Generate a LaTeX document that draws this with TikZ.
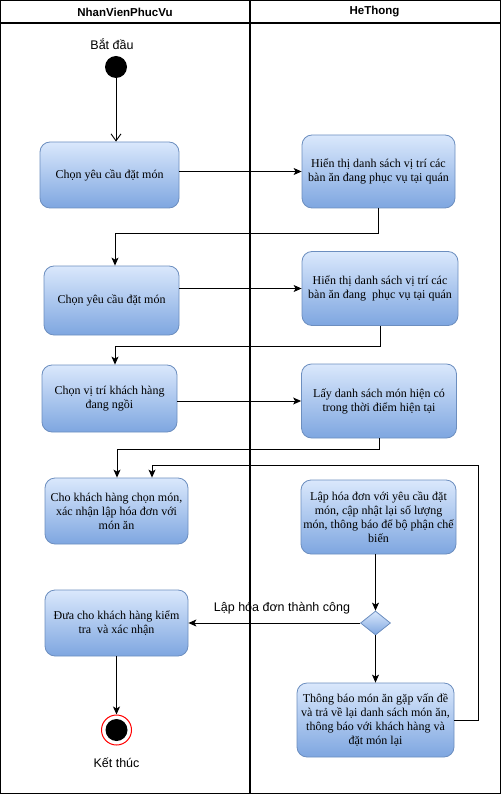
\documentclass[tikz,border=0pt]{standalone}
\usepackage{fontspec}
\setmainfont{Liberation Serif}
\newfontfamily\arialf{Liberation Sans}
\usetikzlibrary{arrows.meta,shapes.geometric,calc}
\definecolor{gtop}{HTML}{DAE8FC}
\definecolor{gbot}{HTML}{7EA6E0}
\definecolor{gline}{HTML}{6C8EBF}
\begin{document}
\begin{tikzpicture}[x=1pt,y=-1pt,
  act/.style={draw=gline, line width=0.8pt, rounded corners=10pt, top color=gtop, bottom color=gbot,
    align=center, inner sep=2pt, font=\fontsize{12}{14}\selectfont},
  lane/.style={draw=black, line width=1.2pt},
  arr/.style={draw=black, line width=0.9pt, -{Stealth[length=8pt,width=7pt,inset=2pt]}},
  openarr/.style={draw=black, line width=0.9pt, -{Straight Barb[length=7pt,width=10pt]}},
  lbl/.style={font=\arialf\fontsize{12.5}{14}\selectfont, inner sep=0pt},
  hdr/.style={font=\arialf\bfseries\fontsize{11.5}{13}\selectfont, inner sep=0pt}
]
\useasboundingbox (0,0) rectangle (501,794);
% swimlanes
\draw[lane] (0.6,0.6) rectangle (250,793.4);
\draw[lane] (250,0.6) rectangle (500.4,793.4);
\draw[lane] (0.6,23) -- (500.4,23);
\node[hdr] (h1) at (125,12) {NhanVienPhucVu};
\node[hdr] (h2) at (374.5,12) {HeThong};

% start
\node[circle, fill=black, minimum size=22pt, inner sep=0pt] (start) at (116,67) {};
\node[lbl] (startlbl) at (112,44) {Bắt đầu};

% activities
\node[act, minimum width=139pt, minimum height=66pt] (b1) at (109.5,175) {Chọn yêu cầu đặt món};
\node[act, minimum width=153pt, minimum height=73pt] (b2) at (378.5,171.5) {Hiển thị danh sách vị trí các\\bàn ăn đang phục vụ tại quán};
\node[act, minimum width=135pt, minimum height=69pt] (b3) at (111.5,300.5) {Chọn yêu cầu đặt món};
\node[act, minimum width=156pt, minimum height=74pt] (b4) at (380,288.5) {Hiển thị danh sách vị trí các\\bàn ăn đang\ \ phục vụ tại quán};
\node[act, minimum width=135pt, minimum height=67pt] (b5) at (109.5,398.5) {Chọn vị trí khách hàng\\đang ngồi};
\node[act, minimum width=155pt, minimum height=74pt] (b6) at (379,401) {Lấy danh sách món hiện có\\trong thời điểm hiện tại};
\node[act, minimum width=143pt, minimum height=66pt] (b7) at (116.5,511) {Cho khách hàng chọn món,\\xác nhận lập hóa đơn với\\món ăn};
\node[act, minimum width=155pt, minimum height=74pt] (b8) at (378.5,517) {Lập hóa đơn với yêu cầu đặt\\món, cập nhật lại số lượng\\món, thông báo để bộ phận chế\\biến};
\node[act, minimum width=143pt, minimum height=66pt] (b9) at (116.5,623) {Đưa cho khách hàng kiểm\\tra\ \ và xác nhận};
\node[act, minimum width=157pt, minimum height=74pt] (b10) at (375.5,720) {Thông báo món ăn gặp vấn đề\\và trả về lại danh sách món ăn,\\thông báo với khách hàng và\\đặt món lại};

% decision
\node[diamond, draw=gline, line width=0.8pt, top color=gtop, bottom color=gbot,
  minimum width=30pt, minimum height=24pt, inner sep=0pt] (dec) at (375.5,623) {};

% end
\node[circle, draw=red, line width=1pt, fill=white, minimum size=30pt, inner sep=0pt] (end) at (116.5,730) {};
\node[circle, fill=black, minimum size=22pt, inner sep=0pt] (endin) at (116.5,730) {};
\node[lbl] (endlbl) at (116.5,763) {Kết thúc};

% bends
\coordinate (c1) at (115,233);
\coordinate (c2) at (115,346);
\coordinate (c3) at (117,449);
\coordinate (c4) at (478,465);
\coordinate (c5) at (152,465);

% connectors
\draw[openarr] (start.south) -- (start.south |- b1.north);
\draw[arr] (b1.east |- b2.west) -- (b2.west);
\draw[arr] (b2.south) |- (c1) -- (c1 |- b3.north);
\draw[arr] (b3.east |- b4.west) -- (b4.west);
\draw[arr] (b4.south) |- (c2) -- (c2 |- b5.north);
\draw[arr] (b5.east |- b6.west) -- (b6.west);
\draw[arr] (b6.south) |- (c3) -- (c3 |- b7.north);
\draw[arr] (b8.south -| dec) -- (dec.north);
\draw[arr] (dec.west) -- (b9.east);
\node[lbl] (declbl) at (282,608) {Lập hóa đơn thành công};
\draw[arr] (dec.south) -- (dec.south |- b10.north);
\draw[arr] (b9.south -| end) -- (end.north);
\draw[arr] (b10.east) -| (c4) -- (c5) -- (c5 |- b7.north);
\end{tikzpicture}
\end{document}
